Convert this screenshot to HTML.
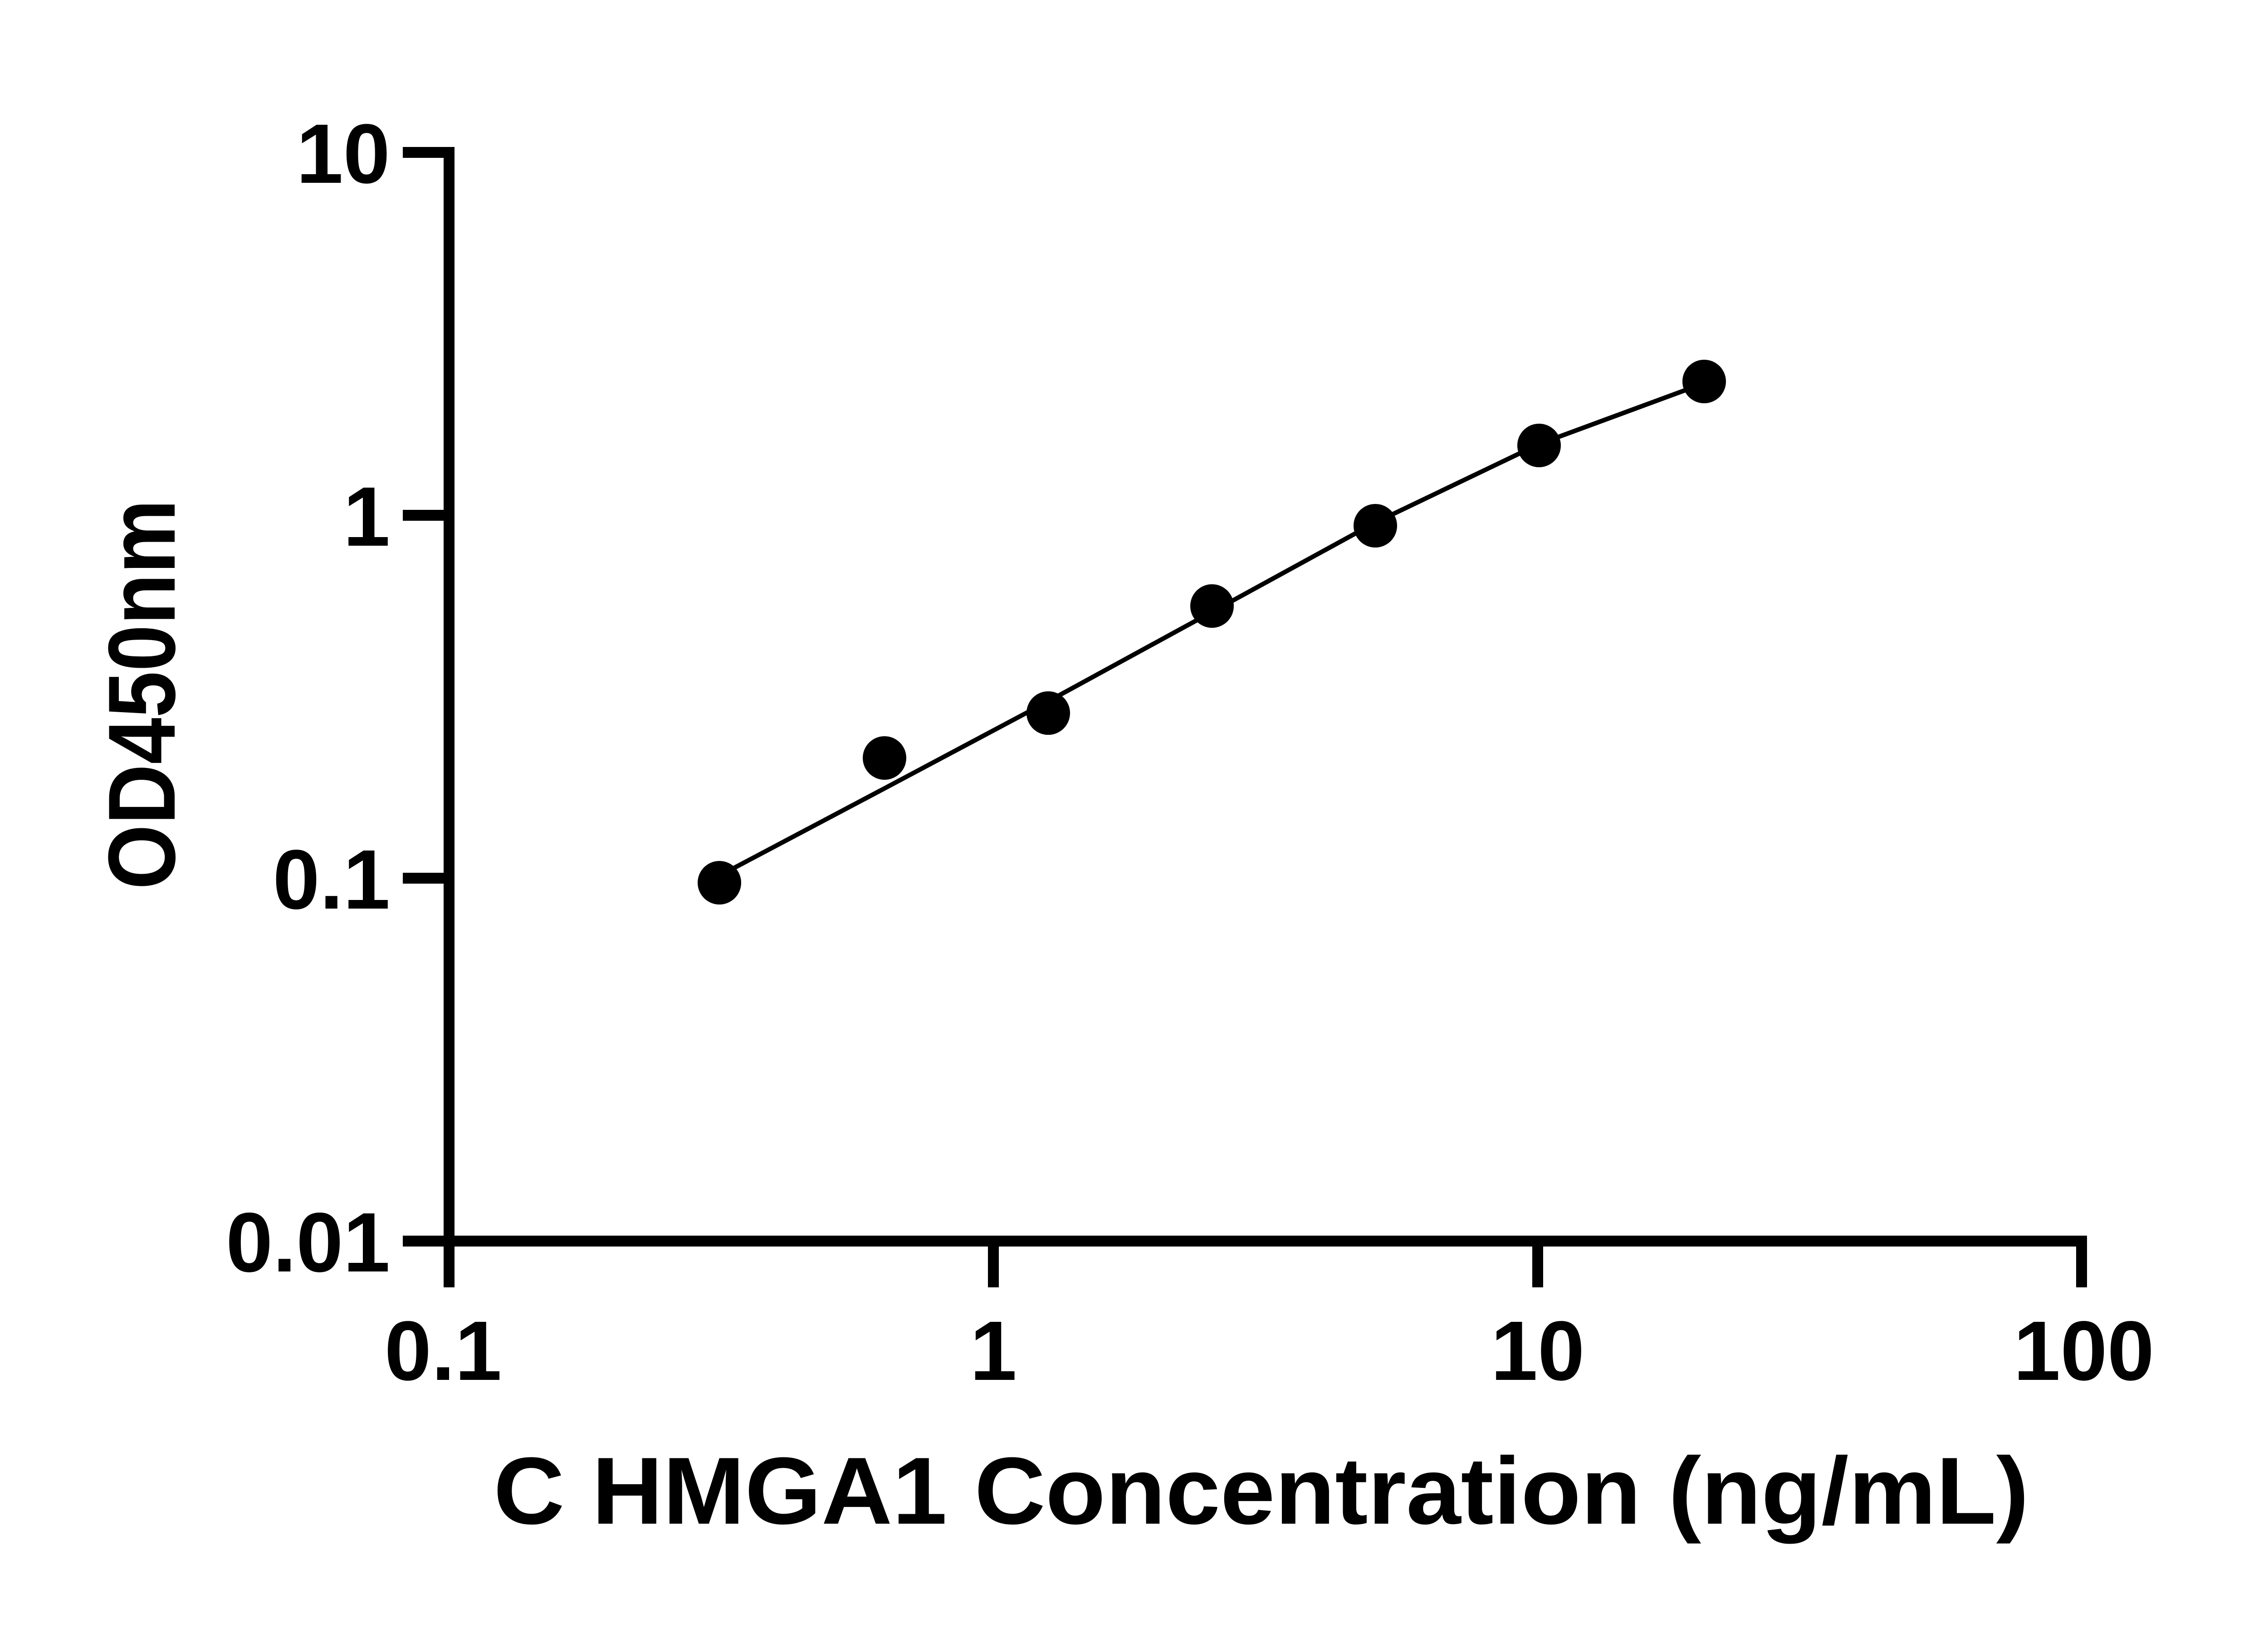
<!DOCTYPE html>
<html><head><meta charset="utf-8"><style>
html,body{margin:0;padding:0;background:#fff;}
svg{display:block;}
text{font-family:"Liberation Sans",sans-serif;font-weight:bold;fill:#000;}
</style></head><body>
<svg width="5142" height="3600" viewBox="0 0 5142 3600" xmlns="http://www.w3.org/2000/svg">
<g stroke="#000" stroke-width="24" fill="none" stroke-linecap="butt">
<line x1="990" y1="324" x2="990" y2="2748"/>
<line x1="978" y1="2736" x2="4601" y2="2736"/>
<line x1="888" y1="336" x2="1002" y2="336"/>
<line x1="888" y1="1136" x2="1002" y2="1136"/>
<line x1="888" y1="1936" x2="1002" y2="1936"/>
<line x1="888" y1="2736" x2="1002" y2="2736"/>
<line x1="990" y1="2736" x2="990" y2="2838"/>
<line x1="2190" y1="2736" x2="2190" y2="2838"/>
<line x1="3390" y1="2736" x2="3390" y2="2838"/>
<line x1="4589" y1="2724" x2="4589" y2="2838"/>
</g>
<g font-size="186" text-anchor="end">
<text x="860" y="403">10</text>
<text x="860" y="1203">1</text>
<text x="860" y="2003">0.1</text>
<text x="860" y="2803">0.01</text>
</g>
<g font-size="186" text-anchor="middle">
<text x="977" y="3042">0.1</text>
<text x="2190" y="3042">1</text>
<text x="3390" y="3042">10</text>
<text x="4594" y="3042">100</text>
</g>
<text x="1088" y="3359" font-size="210" textLength="3385" lengthAdjust="spacingAndGlyphs">C HMGA1 Concentration (ng/mL)</text>
<text transform="translate(385,1961) rotate(-90)" font-size="210" textLength="860" lengthAdjust="spacingAndGlyphs">OD450nm</text>
<polyline fill="none" stroke="#000" stroke-width="10" points="1587,1930 1950,1738 2311,1546 2672,1349 3032,1152 3393,979 3740,851"/>
<g fill="#000">
<circle cx="1586" cy="1946" r="48"/>
<circle cx="1950" cy="1671" r="48"/>
<circle cx="2311" cy="1572" r="48"/>
<circle cx="2672" cy="1336" r="48"/>
<circle cx="3032" cy="1159" r="48"/>
<circle cx="3393" cy="982" r="48"/>
<circle cx="3757" cy="841" r="48"/>
</g>
</svg>
</body></html>
